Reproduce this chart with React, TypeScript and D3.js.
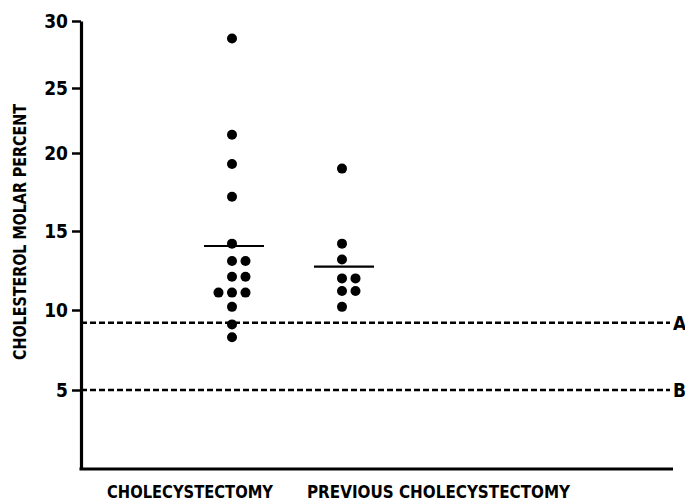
import React, { useRef, useEffect } from "react";
import * as d3 from "d3";

// values (cholesterol molar percent)
const groups = ["CHOLECYSTECTOMY", "PREVIOUS CHOLECYSTECTOMY"];
const cholecystectomy = [28.7, 21.4, 19.3, 17.2, 14.2, 13.1, 13.1, 12.1, 12.1, 11.1, 11.1, 11.1, 10.2, 9.1, 8.3];
const previous = [19.0, 14.2, 13.2, 12.0, 12.0, 11.2, 11.2, 10.2];
const groupMeans = [14.05, 12.75];
const yTicks = [5, 10, 15, 20, 25, 30];
const refLabels = ["A", "B"];
const refValues = [9.2, 5];

const FONT = "'DejaVu Sans', 'Liberation Sans', sans-serif";

export default function App() {
  const ref = useRef<SVGSVGElement>(null);

  useEffect(() => {
    const svg = d3.select(ref.current);
    svg.selectAll("*").remove();

    const left = 81;
    const right = 673;
    const bottom = 469;

    // the printed axis is not evenly spaced, so follow the tick marks
    const y = d3.scaleLinear()
      .domain([0, 5, 10, 15, 20, 25, 30])
      .range([bottom, 390, 310, 231, 153, 88, 21]);

    const x = d3.scalePoint<string>()
      .domain(groups)
      .range([232, 342]);

    const lane = 13.5;
    const r = 5;

    // reference lines
    refValues.forEach((v, i) => {
      svg.append("line")
        .attr("x1", left)
        .attr("x2", 670)
        .attr("y1", y(v))
        .attr("y2", y(v))
        .attr("stroke", "#000")
        .attr("stroke-width", 2.4)
        .attr("stroke-dasharray", "6,3");
      svg.append("text")
        .attr("x", 673)
        .attr("y", y(v))
        .attr("dy", "0.36em")
        .attr("font-family", FONT)
        .attr("font-stretch", "condensed")
        .attr("font-weight", "bold")
        .attr("font-size", 19)
        .text(refLabels[i]);
    });

    // axes
    const axis = d3.axisLeft(y)
      .tickValues(yTicks)
      .tickSize(9)
      .tickSizeOuter(0)
      .tickPadding(4);

    const ag = svg.append("g")
      .attr("transform", `translate(${left},0)`)
      .call(axis);
    ag.select(".domain").attr("stroke-width", 3.2);
    ag.selectAll(".tick line").attr("stroke-width", 2.5);
    ag.selectAll(".tick text")
      .attr("font-family", FONT)
      .attr("font-stretch", "condensed")
      .attr("font-weight", "bold")
      .attr("font-size", 19)
      .attr("fill", "#000");

    svg.append("line")
      .attr("x1", left - 1.5)
      .attr("x2", right)
      .attr("y1", bottom)
      .attr("y2", bottom)
      .attr("stroke", "#000")
      .attr("stroke-width", 3.2);

    // dots, side by side when values coincide
    [cholecystectomy, previous].forEach((vals, gi) => {
      const cx = x(groups[gi]) as number;
      const byValue = d3.group(vals, (d) => d);
      byValue.forEach((same, v) => {
        const offs = same.length === 3 ? [-1, 0, 1] : same.map((_, k) => k);
        offs.forEach((o) => {
          svg.append("circle")
            .attr("cx", cx + o * lane)
            .attr("cy", y(v))
            .attr("r", r)
            .attr("fill", "#000");
        });
      });

      svg.append("line")
        .attr("x1", cx - 28)
        .attr("x2", cx + 32)
        .attr("y1", y(groupMeans[gi]))
        .attr("y2", y(groupMeans[gi]))
        .attr("stroke", "#000")
        .attr("stroke-width", 2.2);
    });

    // titles
    svg.append("text")
      .attr("transform", "translate(26,232) rotate(-90)")
      .attr("text-anchor", "middle")
      .attr("font-family", FONT)
      .attr("font-stretch", "condensed")
      .attr("font-weight", 600)
      .attr("font-size", 18)
      .attr("textLength", 256)
      .attr("lengthAdjust", "spacingAndGlyphs")
      .text("CHOLESTEROL MOLAR PERCENT");

    const labelX = [190, 438.5];
    const labelW = [166, 263];
    groups.forEach((g, i) => {
      svg.append("text")
        .attr("x", labelX[i])
        .attr("y", 498)
        .attr("text-anchor", "middle")
        .attr("font-family", FONT)
        .attr("font-stretch", "condensed")
        .attr("font-weight", 600)
        .attr("font-size", 18)
        .attr("textLength", labelW[i])
        .attr("lengthAdjust", "spacingAndGlyphs")
        .text(g);
    });
  }, []);

  return (
    <svg
      ref={ref}
      width={685}
      height={502}
      style={{ position: "absolute", left: 0, top: 0, background: "#fff" }}
    ></svg>
  );
}
